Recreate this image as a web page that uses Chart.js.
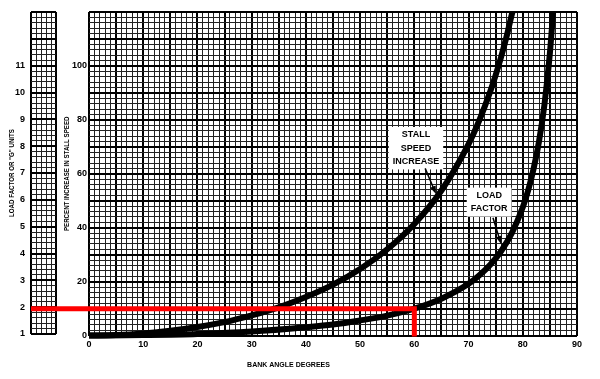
<!DOCTYPE html>
<html>
<head>
<meta charset="utf-8">
<script src="https://cdn.jsdelivr.net/npm/chart.js@4"></script>
<style>
    body { margin: 0; background: #fff; }
    #wrap { position: relative; width: 600px; height: 379px; }
    #gChart, #mainChart { position: absolute; left: 0; top: 0; }
</style>
</head>
<body>
<div id="wrap">
    <canvas id="gChart" width="60" height="379"></canvas>
    <canvas id="mainChart" width="600" height="379"></canvas>
</div>
<script>
// Stall speed increase (%)
const stallAngles = [0, 5, 10, 15, 20, 25, 30, 35, 40, 45, 50, 55, 60, 65, 70, 72, 74, 75, 76, 77, 78, 78.1];
const stallIncrease = [0, 0.2, 0.8, 1.8, 3.2, 5.0, 7.5, 10.5, 14.3, 18.9, 24.7, 32.0, 41.4, 53.8, 71.0, 79.9, 90.5, 96.6, 103.3, 110.8, 119.3, 120];

// Load factor (G units)
const loadAngles = [0, 10, 20, 30, 40, 45, 50, 55, 60, 65, 70, 72, 74, 76, 78, 80, 81, 82, 83, 84, 85, 85.6];
const loadFactor = [1.0, 1.02, 1.06, 1.15, 1.31, 1.41, 1.56, 1.74, 2.0, 2.37, 2.92, 3.24, 3.63, 4.13, 4.81, 5.76, 6.39, 7.19, 8.21, 9.57, 11.47, 13.0];

// Red marker: 60 degree bank gives 2 G
const markerAngles = [-10.7, 60, 60];
const markerLoad = [2, 2, 0.97];

const degreeTicks = [0, 10, 20, 30, 40, 50, 60, 70, 80, 90];
const percentTicks = [0, 20, 40, 60, 80, 100];
const gTicks = [1, 2, 3, 4, 5, 6, 7, 8, 9, 10, 11];

const boldFont = "'Liberation Sans', Arial, sans-serif";

function isMultiple(v, m) {
    return Math.abs(v / m - Math.round(v / m)) < 1e-6;
}

function gridStyle(major) {
    return {
        color: ctx => isMultiple(ctx.tick.value, major) ? "#000" : "#222",
        lineWidth: ctx => isMultiple(ctx.tick.value, major) ? 2 : 1,
        drawTicks: false
    };
}

function toPoints(xs, ys) {
    return xs.map((x, i) => ({ x: x, y: ys[i] }));
}

// Rotated, squeezed axis title (the original uses a condensed face)
function sideTitle(id, text, offset) {
    return {
        id: id,
        afterDraw(chart) {
            const { ctx, chartArea, scales } = chart;
            const cy = (chartArea.top + chartArea.bottom) / 2;
            ctx.save();
            ctx.translate(scales.y.left + offset, cy);
            ctx.rotate(-Math.PI / 2);
            ctx.scale(0.77, 1);
            ctx.font = "bold 8px " + boldFont;
            ctx.fillStyle = "#000";
            ctx.textAlign = "center";
            ctx.textBaseline = "middle";
            ctx.fillText(text, 0, 0);
            ctx.restore();
        }
    };
}

// Small white labels with arrows pointing at the curves
const notesPlugin = {
    id: "notes",
    afterDatasetsDraw(chart) {
        const { ctx, scales: { x, y } } = chart;
        drawNote(ctx, x.getPixelForValue(60.3), y.getPixelForValue(69.5), ["STALL", "SPEED", "INCREASE"]);
        drawNote(ctx, x.getPixelForValue(73.8), y.getPixelForValue(49.5), ["LOAD", "FACTOR"]);
        drawArrow(ctx, x.getPixelForValue(62), y.getPixelForValue(62), x.getPixelForValue(64), y.getPixelForValue(52.5));
        drawArrow(ctx, x.getPixelForValue(74.5), y.getPixelForValue(43.7), x.getPixelForValue(76), y.getPixelForValue(34));
    }
};

function drawNote(ctx, cx, cy, lines) {
    const lineH = 13.5;
    ctx.save();
    ctx.font = "bold 9px " + boldFont;
    const w = Math.max(...lines.map(l => ctx.measureText(l).width)) + 8;
    const h = lines.length * lineH + 2;
    ctx.fillStyle = "#fff";
    ctx.fillRect(cx - w / 2, cy - h / 2, w, h);
    ctx.fillStyle = "#000";
    ctx.textAlign = "center";
    ctx.textBaseline = "middle";
    lines.forEach((l, i) => {
        ctx.fillText(l, cx, cy - h / 2 + 1 + lineH * (i + 0.5));
    });
    ctx.restore();
}

function drawArrow(ctx, x1, y1, x2, y2) {
    const a = Math.atan2(y2 - y1, x2 - x1);
    ctx.save();
    ctx.strokeStyle = "#000";
    ctx.fillStyle = "#000";
    ctx.lineWidth = 1.5;
    ctx.beginPath();
    ctx.moveTo(x1, y1);
    ctx.lineTo(x2 - 5 * Math.cos(a), y2 - 5 * Math.sin(a));
    ctx.stroke();
    ctx.beginPath();
    ctx.moveTo(x2, y2);
    ctx.lineTo(x2 - 8 * Math.cos(a) + 3 * Math.sin(a), y2 - 8 * Math.sin(a) - 3 * Math.cos(a));
    ctx.lineTo(x2 - 8 * Math.cos(a) - 3 * Math.sin(a), y2 - 8 * Math.sin(a) + 3 * Math.cos(a));
    ctx.closePath();
    ctx.fill();
    ctx.restore();
}

// Narrow G-units strip on the left
new Chart(document.getElementById("gChart"), {
    type: "scatter",
    data: { datasets: [] },
    options: {
        responsive: false,
        animation: false,
        devicePixelRatio: 1,
        layout: { padding: { top: 12, right: 4, left: 0, bottom: 0 } },
        plugins: { legend: { display: false }, tooltip: { enabled: false } },
        scales: {
            x: {
                type: "linear", min: 0, max: 5,
                border: { display: false },
                grid: gridStyle(5),
                ticks: { display: false, stepSize: 1 },
                afterFit: s => { s.height = 45; }
            },
            y: {
                type: "linear", min: 1, max: 13,
                border: { display: false },
                grid: gridStyle(1),
                ticks: {
                    stepSize: 0.2, autoSkip: false, maxTicksLimit: 1000, padding: 6,
                    color: "#000",
                    font: { family: boldFont, size: 9, weight: "bold" },
                    callback: v => {
                        const r = Math.round(v);
                        return Math.abs(v - r) < 1e-6 && gTicks.includes(r) ? String(r) : "";
                    }
                },
                afterFit: s => { s.width = 31; }
            }
        }
    },
    plugins: [sideTitle("gTitle", 'LOAD FACTOR OR "G" UNITS', 12)]
});

// Main chart
new Chart(document.getElementById("mainChart"), {
    type: "line",
    data: {
        datasets: [
            {
                label: "60 deg / 2 G",
                data: toPoints(markerAngles, markerLoad),
                yAxisID: "yLF",
                borderColor: "#ff0000",
                borderWidth: 5,
                borderJoinStyle: "miter",
                pointRadius: 0,
                clip: false
            },
            {
                label: "Stall speed increase",
                data: toPoints(stallAngles, stallIncrease),
                yAxisID: "y",
                borderColor: "#000",
                borderWidth: 6,
                cubicInterpolationMode: "monotone",
                pointRadius: 0,
                clip: false
            },
            {
                label: "Load factor",
                data: toPoints(loadAngles, loadFactor),
                yAxisID: "yLF",
                borderColor: "#000",
                borderWidth: 6,
                cubicInterpolationMode: "monotone",
                pointRadius: 0,
                clip: false
            }
        ]
    },
    options: {
        responsive: false,
        animation: false,
        devicePixelRatio: 1,
        layout: { padding: { top: 12, right: 23, left: 0, bottom: 0 } },
        plugins: {
            legend: { display: false },
            tooltip: { enabled: false },
            title: {
                display: true,
                position: "bottom",
                text: "BANK ANGLE DEGREES",
                color: "#000",
                padding: { top: 5, bottom: 10 },
                font: { family: boldFont, size: 7, weight: "bold" }
            }
        },
        scales: {
            x: {
                type: "linear", min: 0, max: 90,
                border: { display: false },
                grid: gridStyle(5),
                ticks: {
                    stepSize: 1, autoSkip: false, maxTicksLimit: 1000, maxRotation: 0, padding: 4,
                    color: "#000",
                    font: { family: boldFont, size: 9, weight: "bold" },
                    callback: v => degreeTicks.includes(v) ? String(v) : ""
                },
                afterFit: s => { s.height = 20; }
            },
            y: {
                type: "linear", min: 0, max: 120,
                border: { display: false },
                grid: gridStyle(10),
                ticks: {
                    stepSize: 2, autoSkip: false, maxTicksLimit: 1000, padding: 2,
                    color: "#000",
                    font: { family: boldFont, size: 9, weight: "bold" },
                    callback: v => percentTicks.includes(v) ? String(v) : ""
                },
                afterFit: s => { s.width = 89; }
            },
            yLF: { type: "linear", min: 1, max: 13, display: false }
        }
    },
    plugins: [notesPlugin, sideTitle("pctTitle", "PERCENT INCREASE IN STALL SPEED", 67)]
});
</script>
</body>
</html>
